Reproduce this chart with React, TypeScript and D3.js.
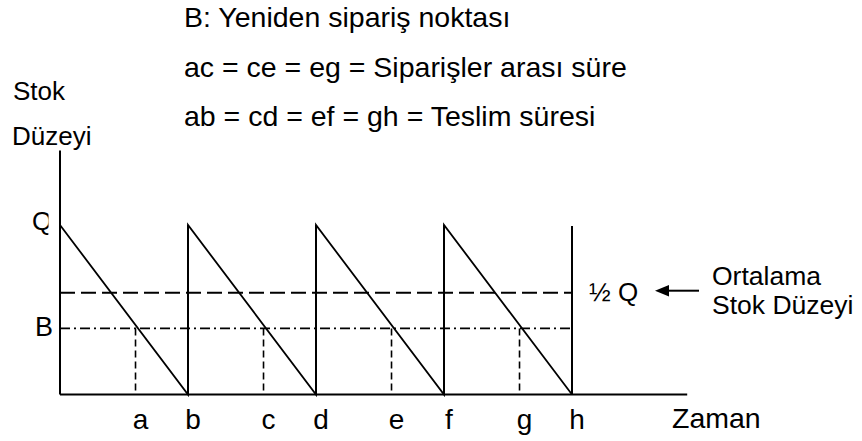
import React from "react";
import * as d3 from "d3";

// Time points along the horizontal axis (one reorder cycle = 1 unit)
const tickNames = ["a", "b", "c", "d", "e", "f", "g", "h"];
const tickTimes = [0.59, 1, 1.59, 2, 2.59, 3, 3.59, 4];
const orderTimes = [1, 2, 3];            // replenishment instants b, d, f
const cycleStarts = [0, 1, 2, 3];        // start of each depletion run
const axisEndTime = 4.9;

// Stock levels (Q = full order quantity)
const levelQ = 100;
const levelHalf = 60;
const levelB = 39;
const levelAxisTop = 144;

const notes = [
  "B: Yeniden sipariş noktası",
  "ac = ce = eg = Siparişler arası süre",
  "ab = cd = ef = gh = Teslim süresi",
];

const W = 862;
const H = 441;
const FONT = "'Liberation Sans', Arial, Helvetica, sans-serif";
const FS = 26;

export default function App() {
  const x = d3.scaleLinear().domain([0, 4]).range([60, 572]);
  const y = d3.scaleLinear().domain([0, levelQ]).range([394.5, 225]);

  const x0 = x(0);
  const y0 = y(0);

  // Sawtooth inventory path
  const pts: [number, number][] = [];
  cycleStarts.forEach((t) => {
    pts.push([x(t), y(levelQ)]);
    pts.push([x(t + 1), y(0)]);
  });
  const saw = d3.line()(pts) as string;
  const stroke = "#000";

  return (
    <svg
      width={W}
      height={H}
      style={{ position: "absolute", left: 0, top: 0, background: "#fff" }}
      fontFamily={FONT}
      fontSize={FS}
    >
      <defs>
        <clipPath id="qclip">
          <rect x={0} y={190} width={48.5} height={60} />
        </clipPath>
      </defs>
      <rect width={W} height={H} fill="#fff" />

      {/* Notes */}
      {notes.map((n, i) => (
        <text key={n} x={184} y={27 + i * 49.5} fill="#000" fontSize={28.5}>
          {n}
        </text>
      ))}

      {/* Axis titles */}
      <text x={13} y={100}>Stok</text>
      <text x={12} y={145}>Düzeyi</text>
      <text x={672} y={428} fontSize={28.5}>Zaman</text>

      {/* Axes */}
      <line x1={x0} y1={y(levelAxisTop)} x2={x0} y2={y0} stroke={stroke} strokeWidth={2} />
      <line x1={x0} y1={y0} x2={x(axisEndTime)} y2={y0} stroke={stroke} strokeWidth={2} />

      {/* Average stock level */}
      <line
        x1={x0}
        y1={y(levelHalf)}
        x2={x(4)}
        y2={y(levelHalf)}
        stroke={stroke}
        strokeWidth={2}
        strokeDasharray="15,6"
      />
      {/* Reorder point */}
      <line
        x1={x0}
        y1={y(levelB)}
        x2={x(4)}
        y2={y(levelB)}
        stroke={stroke}
        strokeWidth={1.6}
        strokeDasharray="10,4,2,4"
      />

      {/* Reorder instants */}
      {[tickTimes[0], tickTimes[2], tickTimes[4], tickTimes[6]].map((t) => (
        <line
          key={t}
          x1={x(t)}
          y1={y(levelB)}
          x2={x(t)}
          y2={y0}
          stroke={stroke}
          strokeWidth={1.6}
          strokeDasharray="7,4"
        />
      ))}

      {/* Inventory sawtooth */}
      <path d={saw} fill="none" stroke={stroke} strokeWidth={1.8} />
      {orderTimes.map((t) => (
        <line key={t} x1={x(t)} y1={y0} x2={x(t)} y2={y(levelQ)} stroke={stroke} strokeWidth={2} />
      ))}
      <line x1={x(4)} y1={y0} x2={x(4)} y2={y(levelQ) + 1} stroke={stroke} strokeWidth={2} />

      {/* Level labels */}
      <text x={32} y={230} clipPath="url(#qclip)">Q</text>
      <text x={35} y={336} fontSize={27}>B</text>
      <text x={589} y={y(levelHalf) + 8}>½ Q</text>

      {/* Arrow to annotation */}
      <line x1={667} y1={290.7} x2={699} y2={290.7} stroke={stroke} strokeWidth={2} />
      <path d="M655,290.7 L669,285 L669,296.4 Z" fill={stroke} />
      <text x={712} y={285} fontSize={26.5}>Ortalama</text>
      <text x={712} y={314} fontSize={26.5}>Stok Düzeyi</text>

      {/* Time labels */}
      {tickNames.map((n, i) => (
        <text key={n} x={x(tickTimes[i]) + 5} y={429} textAnchor="middle" fontSize={28}>
          {n}
        </text>
      ))}
    </svg>
  );
}
